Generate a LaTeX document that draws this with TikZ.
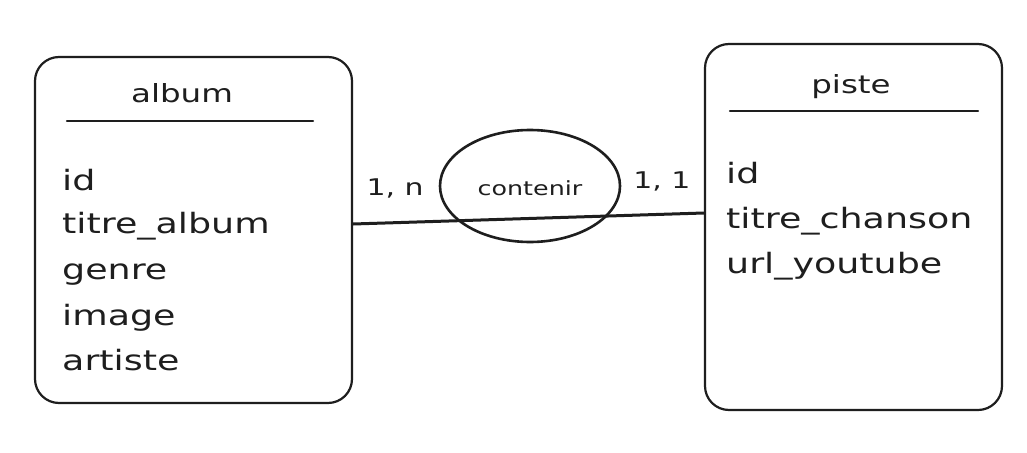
\documentclass[tikz,border=0pt]{standalone}
\usepackage{fontspec}
\setmainfont[FakeStretch=1.3]{DejaVu Sans}
\usetikzlibrary{shapes.geometric,positioning}
\definecolor{sketchInk}{HTML}{1E1E1E}
\definecolor{sketchPaper}{HTML}{FFFFFF}

\begin{document}
\begin{tikzpicture}[x=1pt,y=-1pt,line cap=round,line join=round]
\path[fill=sketchPaper] (0,0) rectangle (1027,452);
\tikzset{entity/.style={draw=sketchInk,line width=2.2pt,rounded corners=24pt,minimum width=317pt,minimum height=346pt},rule/.style={draw=sketchInk,line width=2.4pt},link/.style={draw=sketchInk,line width=3pt},attr/.style={anchor=base west,text=sketchInk,inner sep=0pt,font=\fontsize{28}{32}\selectfont},title/.style={anchor=base,text=sketchInk,inner sep=0pt,font=\fontsize{25}{30}\selectfont},card/.style={anchor=base,text=sketchInk,inner sep=0pt,font=\fontsize{23}{28}\selectfont}}
% entities
\node[entity] (album) at (193.5,230) {};
\node[entity,minimum width=297pt,minimum height=366pt] (piste) at (853.5,227) {};
\node[title] (albumTitle) at (182,102) {album};
\node[title] (pisteTitle) at (851,93) {piste};
\draw[rule] (67,121) -- (313,121); \draw[rule] (730,111) -- (978,111);
\node[attr] (albumId) at (62,190) {id};
\node[attr] (albumTitre) at (62,233) {titre\_album};
\node[attr] (albumGenre) at (62,279) {genre};
\node[attr] (albumImage) at (62,325) {image};
\node[attr] (albumArtiste) at (62,370) {artiste};
\node[attr] (pisteId) at (726,183) {id};
\node[attr] (pisteTitre) at (726,228) {titre\_chanson};
\node[attr] (pisteUrl) at (726,273) {url\_youtube};
% association
\node[ellipse,draw=sketchInk,line width=2.6pt,minimum width=180pt,minimum height=112pt] (contenir) at (530,186) {};
\node[card,font=\fontsize{19.5}{24}\selectfont] (contenirLabel) at (530,195) {contenir};
\draw[link] ([yshift=6pt]album.east) -- ([yshift=14pt]piste.west);
\node[card] (cardAlbum) at (395,195) {1, n};
\node[card] (cardPiste) at (662,188) {1, 1};
\end{tikzpicture}
\end{document}
